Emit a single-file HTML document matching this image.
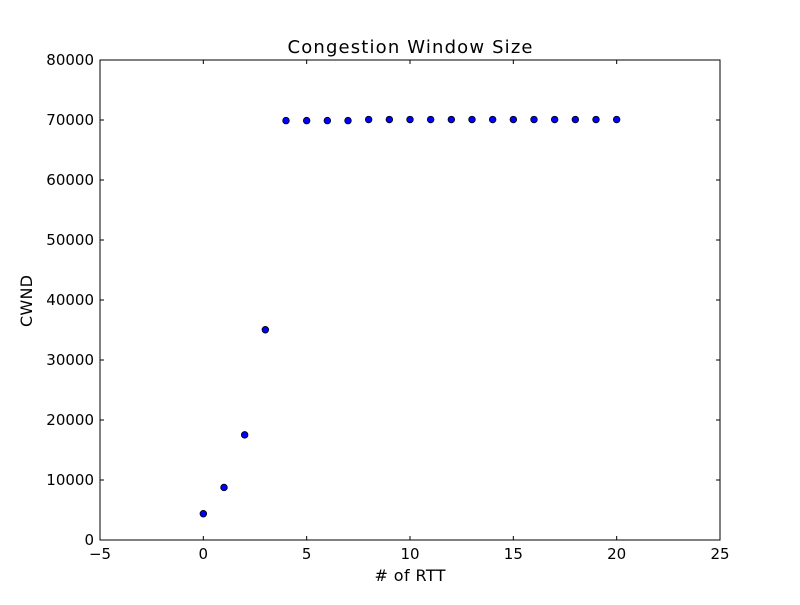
<!DOCTYPE html>
<html><head><meta charset="utf-8"><style>
body{margin:0;background:#fff}
svg text{font-family:"DejaVu Sans","Liberation Sans",sans-serif;fill:#000}
</style></head><body>
<svg id="chart" width="800" height="600" xmlns="http://www.w3.org/2000/svg">
<rect width="800" height="600" fill="#fff"/>
<g id="ticks"></g>
<g id="marks"></g>
<rect x="100" y="60" width="620" height="480" fill="none" stroke="#000" stroke-width="1"/>
<text x="410" y="53" font-size="18" text-anchor="middle" textLength="245">Congestion Window Size</text>
<text x="410" y="581" font-size="16" text-anchor="middle" textLength="71"> # of RTT</text>
<text transform="translate(32,301) rotate(-90)" font-size="16" text-anchor="middle" textLength="52">CWND</text>
</svg>
<script>
const rtt = [0,1,2,3,4,5,6,7,8,9,10,11,12,13,14,15,16,17,18,19,20];
const cwnd = [4380,8760,17520,35040,69900,69900,69900,69900,70080,70080,70080,70080,70080,70080,70080,70080,70080,70080,70080,70080,70080];
const xTicks = [-5,0,5,10,15,20,25];
const yTicks = [0,10000,20000,30000,40000,50000,60000,70000,80000];
const L=100,R=720,T=60,B=540;
const xs=v=>L+(v+5)/30*(R-L);
const ys=v=>B-v/80000*(B-T);
const NS="http://www.w3.org/2000/svg";
const tg=document.getElementById('ticks'), mg=document.getElementById('marks');
function mk(tag,attrs,parent){const e=document.createElementNS(NS,tag);for(const k in attrs)e.setAttribute(k,attrs[k]);parent.appendChild(e);return e;}
xTicks.forEach(t=>{
  const x=xs(t);
  mk('line',{x1:x,x2:x,y1:B,y2:B-4,stroke:'#000'},tg);
  mk('line',{x1:x,x2:x,y1:T,y2:T+4,stroke:'#000'},tg);
  const tx=mk('text',{x:x,y:B+19,'font-size':15,'text-anchor':'middle'},tg);
  tx.textContent=String(t).replace('-','\u2212');
  
  
});
yTicks.forEach(t=>{
  const y=ys(t);
  mk('line',{x1:L,x2:L+4,y1:y,y2:y,stroke:'#000'},tg);
  mk('line',{x1:R,x2:R-4,y1:y,y2:y,stroke:'#000'},tg);
  const tx=mk('text',{x:L-6,y:y+5,'font-size':15,'text-anchor':'end'},tg);
  tx.textContent=t;
  
  
});
rtt.forEach((r,i)=>{
  const c=mk('circle',{cx:xs(r),cy:ys(cwnd[i]),r:3.3,fill:'#0000ff',stroke:'#000','stroke-width':0.8},mg);
  
  
});
</script>
</body></html>
